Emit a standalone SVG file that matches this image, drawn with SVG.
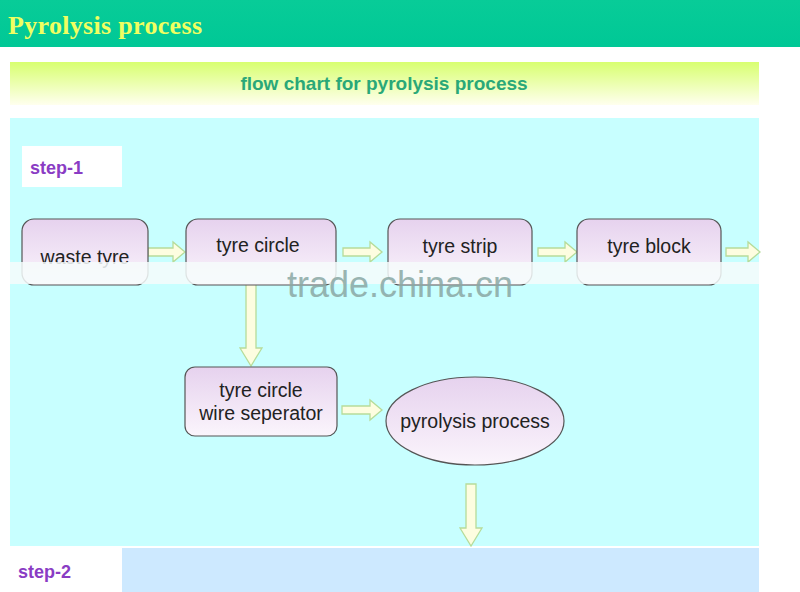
<svg xmlns="http://www.w3.org/2000/svg" width="800" height="592" viewBox="0 0 800 592">
<defs>
<linearGradient id="yel" x1="0" y1="0" x2="0" y2="1"><stop offset="0" stop-color="#d8ff70"/><stop offset="1" stop-color="#ffffee"/></linearGradient>
<linearGradient id="nd" x1="0" y1="0" x2="0" y2="1"><stop offset="0" stop-color="#e6d2ee"/><stop offset="1" stop-color="#fbf5fc"/></linearGradient>
<linearGradient id="top" x1="0" y1="0" x2="0" y2="1"><stop offset="0" stop-color="#08cc98"/><stop offset="1" stop-color="#00c896"/></linearGradient>
</defs>
<style>
.nd{fill:url(#nd);stroke:#555;stroke-width:1.2}
.ar{fill:#fdfde0;stroke:#b6dc9a;stroke-width:1.3}
.t{font-family:"Liberation Sans",Arial,sans-serif;font-size:19.5px;fill:#222;text-anchor:middle}
.st{font-family:"Liberation Sans",Arial,sans-serif;font-size:18px;font-weight:bold;fill:#8a3cc4}
</style>
<rect width="800" height="592" fill="#fff"/>
<rect width="800" height="47" fill="url(#top)"/>
<text x="8" y="34" font-family="Liberation Serif,serif" font-size="26" font-weight="bold" fill="#f0ff60" textLength="194">Pyrolysis process</text>
<rect x="10" y="62" width="749" height="43" fill="url(#yel)"/>
<text x="384" y="90" font-family="Liberation Sans,Arial,sans-serif" font-size="19" font-weight="bold" fill="#2aa878" text-anchor="middle">flow chart for pyrolysis process</text>
<rect x="10" y="118" width="749" height="428" fill="#c8ffff"/>
<rect x="22" y="146" width="100" height="41" fill="#fff"/>
<text class="st" x="30" y="174">step-1</text>
<g id="connectors">
<path class="ar" d="M148 248h25v-6l12 10-12 10v-6h-25z"/>
<path class="ar" d="M343 248h27v-6l12 10-12 10v-6h-27z"/>
<path class="ar" d="M538 248h27v-6l12 10-12 10v-6h-27z"/>
<path class="ar" d="M726 248h22v-6l12 10-12 10v-6h-22z"/>
<path class="ar" d="M246 282v66h-6l11 18 11-18h-6v-66z"/>
<path class="ar" d="M342 406h28v-6l12 10-12 10v-6h-28z"/>
<path class="ar" d="M466 484v44h-6l11 18 11-18h-6v-44z"/>
</g>
<g id="n1"><rect class="nd" x="22" y="219" width="126" height="66" rx="12"/><text class="t" x="85" y="264">waste tyre</text></g>
<g id="n2"><rect class="nd" x="186" y="219" width="150" height="66" rx="12"/><text class="t" x="258" y="252">tyre circle</text></g>
<g id="n3"><rect class="nd" x="388" y="219" width="144" height="66" rx="12"/><text class="t" x="460" y="253">tyre strip</text></g>
<g id="n4"><rect class="nd" x="577" y="219" width="144" height="66" rx="12"/><text class="t" x="649" y="253">tyre block</text></g>
<rect x="10" y="262" width="749" height="22" fill="#f6fbfb" opacity="0.85"/>
<text x="400" y="297" font-family="Liberation Sans,Arial,sans-serif" font-size="36" fill="#8aa8a4" text-anchor="middle" opacity="0.85">trade.china.cn</text>
<g id="n5"><rect class="nd" x="185" y="367" width="152" height="69" rx="10"/><text class="t" x="261" y="397">tyre circle</text><text class="t" x="261" y="420">wire seperator</text></g>
<g id="n6"><ellipse class="nd" cx="475" cy="421" rx="89" ry="44"/><text class="t" x="475" y="428">pyrolysis process</text></g>
<rect x="122" y="548" width="637" height="44" fill="#cde9ff"/>
<text class="st" x="18" y="578">step-2</text>
</svg>
